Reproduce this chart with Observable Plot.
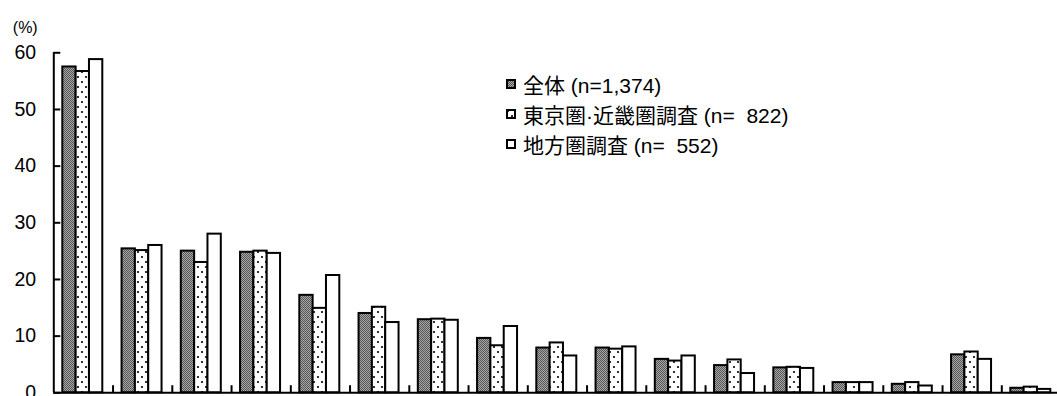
<!DOCTYPE html>
<html><head><meta charset="utf-8">
<script src="https://cdn.jsdelivr.net/npm/d3@7"></script>
<script src="https://cdn.jsdelivr.net/npm/@observablehq/plot@0.6"></script>
<style>
html,body{margin:0;padding:0;background:#fff;overflow:hidden;}
#wrap{position:relative;width:1057px;height:396px;overflow:hidden;}
#legend{position:absolute;left:506px;top:69px;font:21px "Liberation Sans","Noto Sans CJK JP",sans-serif;color:#000;}
.row{display:flex;align-items:center;height:30px;white-space:pre;}
.row svg{margin-right:7px;flex:none;}
</style></head><body><div id="wrap"><div id="legend"></div></div>
<script>
// Categories (their labels are cut off below the reference picture)
const categories = ["c1","c2","c3","c4","c5","c6","c7","c8","c9","c10","c11","c12","c13","c14","c15","c16","c17"];
const seriesNames = ["全体 (n=1,374)", "東京圏·近畿圏調査 (n=  822)", "地方圏調査 (n=  552)"];
const allValues      = [57.5, 25.4, 25.0, 24.8, 17.2, 14.0, 12.9, 9.6, 7.9, 7.9, 5.9, 4.8, 4.4, 1.8, 1.5, 6.7, 0.8];
const metroValues    = [56.7, 25.1, 23.0, 25.0, 14.9, 15.1, 13.0, 8.3, 8.8, 7.7, 5.6, 5.8, 4.5, 1.8, 1.8, 7.2, 1.0];
const regionalValues = [58.8, 26.0, 28.0, 24.6, 20.7, 12.4, 12.8, 11.7, 6.5, 8.1, 6.5, 3.4, 4.3, 1.8, 1.2, 5.9, 0.6];
const yTicks = [0, 10, 20, 30, 40, 50, 60];

const seriesValues = [allValues, metroValues, regionalValues];
const patternIds = ["pat-all", "pat-metro", "pat-regional"];
const FONT = '"Liberation Sans","Noto Sans CJK JP",sans-serif';

// sub-band layout of the three bars inside each category slot
const sub = d3.scaleBand([0, 1, 2], [0.152, 0.827]).paddingInner(0).paddingOuter(0);

const rowsFor = j => categories.map((c, i) => ({cat: c, i, v: seriesValues[j][i]}));

const barMark = j => Plot.rectY(rowsFor(j), {
  x1: d => d.i + sub(j),
  x2: d => d.i + sub(j) + sub.bandwidth(),
  y1: 0,
  y2: "v",
  fill: `url(#${patternIds[j]})`,
  stroke: "black",
  strokeWidth: 2
});

const svg = Plot.plot({
  width: 1057,
  height: 396,
  marginLeft: 53.3,
  marginRight: 0,
  marginTop: 52.3,
  marginBottom: 3.7,
  style: {fontFamily: FONT, fontSize: "19px", background: "white", overflow: "visible"},
  x: {domain: [0, categories.length], range: [53.3, 53.3 + 59.25 * categories.length], axis: null},
  y: {domain: [0, 60], axis: null},
  marks: [
    barMark(0), barMark(1), barMark(2),
    Plot.ruleY([0], {stroke: "black", strokeWidth: 2}),
    Plot.ruleX([0], {y1: 0, y2: 60, stroke: "black", strokeWidth: 2}),
    Plot.ruleX(d3.range(1, categories.length + 1), {y1: 0, y2: 1.25, stroke: "black", strokeWidth: 2}),
    Plot.axisY(yTicks, {anchor: "left", tickSize: -7, tickPadding: 24.6, strokeWidth: 2, fontSize: 19.5, label: null, tickFormat: d => String(d)}),
    Plot.text(["(%)"], {text: d => d, frameAnchor: "top-left", dx: -41, dy: -25, textAnchor: "start", lineAnchor: "middle", fontSize: 16})
  ]
});

// pattern definitions
const defs = d3.select(svg).insert("defs", ":first-child");
const p0 = defs.append("pattern").attr("id", "pat-all").attr("patternUnits", "userSpaceOnUse").attr("width", 2).attr("height", 2);
p0.append("rect").attr("width", 2).attr("height", 2).attr("fill", "#a8a8a8");
p0.append("rect").attr("width", 1).attr("height", 1).attr("fill", "#555");
p0.append("rect").attr("x", 1).attr("y", 1).attr("width", 1).attr("height", 1).attr("fill", "#555");
const p1 = defs.append("pattern").attr("id", "pat-metro").attr("patternUnits", "userSpaceOnUse").attr("width", 8).attr("height", 10);
p1.append("rect").attr("width", 8).attr("height", 10).attr("fill", "white");
p1.append("circle").attr("cx", 2).attr("cy", 2).attr("r", 1.1).attr("fill", "black");
p1.append("circle").attr("cx", 6).attr("cy", 7).attr("r", 1.1).attr("fill", "black");
const p2 = defs.append("pattern").attr("id", "pat-regional").attr("patternUnits", "userSpaceOnUse").attr("width", 4).attr("height", 4);
p2.append("rect").attr("width", 4).attr("height", 4).attr("fill", "white");

document.getElementById("wrap").prepend(svg);

// legend
const legend = d3.select("#legend");
seriesNames.forEach((name, j) => {
  const row = legend.append("div").attr("class", "row");
  const s = row.append("svg").attr("width", 10).attr("height", 10);
  s.append("rect").attr("x", 1).attr("y", 1).attr("width", 8).attr("height", 8)
    .attr("fill", `url(#${patternIds[j]})`).attr("stroke", "black").attr("stroke-width", 2);
  row.append("span").text(name);
});
</script>
</body></html>
